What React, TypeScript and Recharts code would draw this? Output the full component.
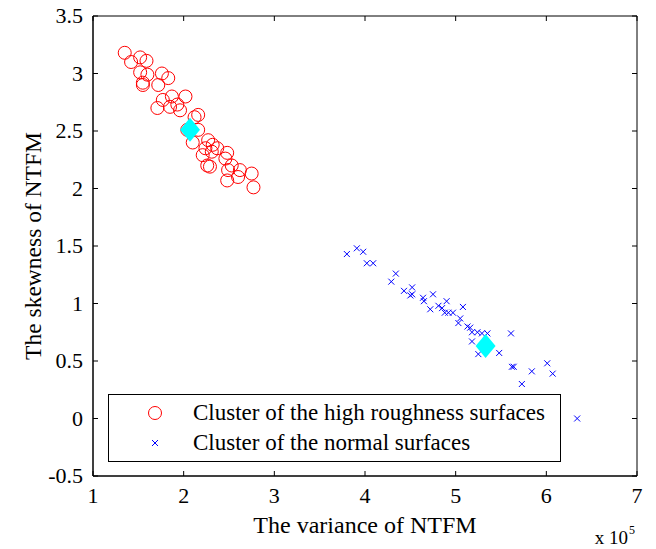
import React from 'react';
import { ScatterChart, Scatter, XAxis, YAxis, Legend, Label, ReferenceArea } from 'recharts';

// values (x in units of 10^5)
const roughX = [1.35, 1.42, 1.52, 1.59, 1.52, 1.6, 1.55, 1.76, 1.83, 1.72, 1.71, 1.77, 1.87, 2.02, 1.93, 1.96, 1.85, 2.16, 2.04, 2.16, 2.1, 2.27, 2.32, 2.24, 2.21, 2.31, 2.37, 2.48, 2.46, 2.26, 2.29, 2.53, 2.49, 2.62, 2.75, 2.48, 2.6, 2.77, 1.55, 2.12];
const roughY = [3.18, 3.1, 3.14, 3.11, 3.01, 2.99, 2.9, 3.0, 2.96, 2.9, 2.7, 2.77, 2.8, 2.8, 2.73, 2.68, 2.71, 2.64, 2.51, 2.51, 2.4, 2.42, 2.38, 2.35, 2.29, 2.32, 2.35, 2.31, 2.26, 2.2, 2.19, 2.2, 2.16, 2.16, 2.13, 2.07, 2.1, 2.01, 2.92, 2.62];

const normalX = [3.8, 3.91, 3.98, 4.02, 4.09, 4.29, 4.34, 4.43, 4.52, 4.52, 4.5, 4.64, 4.65, 4.75, 4.72, 4.81, 4.85, 4.9, 4.88, 4.92, 4.97, 5.08, 5.05, 5.03, 5.13, 5.16, 5.18, 5.24, 5.29, 5.35, 5.18, 5.25, 5.48, 5.61, 5.62, 5.64, 5.84, 6.01, 6.07, 5.73, 6.34];
const normalY = [1.43, 1.48, 1.45, 1.35, 1.35, 1.19, 1.26, 1.11, 1.14, 1.08, 1.07, 1.05, 1.02, 1.08, 0.95, 0.98, 0.96, 1.02, 0.92, 0.92, 0.92, 0.97, 0.87, 0.83, 0.8, 0.79, 0.75, 0.75, 0.74, 0.74, 0.67, 0.56, 0.57, 0.74, 0.45, 0.45, 0.41, 0.48, 0.39, 0.3, 0.0];

const centroidX = [2.07, 5.33];
const centroidY = [2.51, 0.63];

const xTicks = [1, 2, 3, 4, 5, 6, 7];
const yTicks = [-0.5, 0, 0.5, 1, 1.5, 2, 2.5, 3, 3.5];

const seriesNames = ['Cluster of the high roughness surfaces', 'Cluster of the normal surfaces'];

const zip = (xs: number[], ys: number[]) => xs.map((x, i) => ({ x, y: ys[i] }));
const roughData = zip(roughX, roughY);
const normalData = zip(normalX, normalY);
const centroidData = zip(centroidX, centroidY);

const FONT = '"Liberation Serif", "Times New Roman", serif';
const PLOT_W = 544;
const PLOT_H = 460;
const TICK = 5;

const CircleMark = ({ cx, cy }: any) => (
  <circle cx={cx} cy={cy} r={6.5} fill="none" stroke="#ff0000" strokeWidth={1} />
);

const CrossMark = ({ cx, cy }: any) => (
  <g stroke="#0000ff" strokeWidth={1}>
    <line x1={cx - 3} y1={cy - 3} x2={cx + 3} y2={cy + 3} />
    <line x1={cx - 3} y1={cy + 3} x2={cx + 3} y2={cy - 3} />
  </g>
);

const DiamondMark = ({ cx, cy }: any) => (
  <polygon points={`${cx},${cy - 12} ${cx + 10},${cy} ${cx},${cy + 12} ${cx - 10},${cy}`} fill="#00ffff" />
);

const XTick = ({ x, y, payload }: any) => (
  <g>
    <line x1={x} x2={x} y1={y} y2={y - TICK} stroke="#000" />
    <line x1={x} x2={x} y1={y - PLOT_H} y2={y - PLOT_H + TICK} stroke="#000" />
    <text x={x} y={y + 27} textAnchor="middle" fontSize={22} fontFamily={FONT} fill="#000">
      {payload.value}
    </text>
  </g>
);

const YTick = ({ x, y, payload }: any) => (
  <g>
    <line x1={x} x2={x + TICK} y1={y} y2={y} stroke="#000" />
    <line x1={x + PLOT_W - TICK} x2={x + PLOT_W} y1={y} y2={y} stroke="#000" />
    <text x={x - 10} y={y + 7} textAnchor="end" fontSize={22} fontFamily={FONT} fill="#000">
      {payload.value}
    </text>
  </g>
);

const XTitle = ({ viewBox }: any) => {
  const { x, y, width } = viewBox;
  return (
    <g fontFamily={FONT} fill="#000">
      <text x={x + width / 2} y={y + 57} textAnchor="middle" fontSize={24}>The variance of NTFM</text>
      <text x={x + width - 9} y={y + 68} textAnchor="end" fontSize={19}>x 10</text>
      <text x={x + width - 8} y={y + 58} textAnchor="start" fontSize={12}>5</text>
    </g>
  );
};

const YTitle = ({ viewBox }: any) => {
  const { y, height } = viewBox;
  const cy = y + height / 2;
  return (
    <text x={41} y={cy} transform={`rotate(-90, 41, ${cy})`} textAnchor="middle" fontSize={23.5} fontFamily={FONT} fill="#000">
      The skewness of NTFM
    </text>
  );
};

const LegendBox = ({ payload }: any) => {
  const items = (payload || []).filter((p: any) => seriesNames.includes(p.value));
  return (
    <svg width={453} height={68} style={{ display: 'block' }}>
      <rect x={0.5} y={0.5} width={452} height={67} fill="#fff" stroke="#000" strokeWidth={1} />
      {items.map((p: any, i: number) => {
        const cy = 19 + i * 30;
        return (
          <g key={p.value}>
            {i === 0 ? <CircleMark cx={47} cy={cy} /> : <CrossMark cx={47} cy={cy} />}
            <text x={85} y={cy + 7} fontSize={23} fontFamily={FONT} fill="#000">{p.value}</text>
          </g>
        );
      })}
    </svg>
  );
};

export default function App() {
  return (
    <div style={{ position: 'absolute', left: 0, top: 0, background: '#fff' }}>
      <ScatterChart width={656} height={549} margin={{ top: 16, right: 19, bottom: 0, left: 0 }}>
        <XAxis
          type="number"
          dataKey="x"
          domain={[1, 7]}
          ticks={xTicks}
          allowDataOverflow
          height={73}
          tickSize={0}
          tickMargin={0}
          tick={<XTick />}
          axisLine={{ stroke: '#000' }}
          tickLine={false}
          label={<Label content={<XTitle />} />}
        />
        <YAxis
          type="number"
          dataKey="y"
          domain={[-0.5, 3.5]}
          ticks={yTicks}
          allowDataOverflow
          width={93}
          tickSize={0}
          tickMargin={0}
          tick={<YTick />}
          axisLine={{ stroke: '#000' }}
          tickLine={false}
          label={<Label content={<YTitle />} />}
        />
        <ReferenceArea x1={1} x2={7} y1={-0.5} y2={3.5} fill="none" stroke="#000" strokeWidth={1} fillOpacity={0} />
        <Legend
          layout="horizontal"
          verticalAlign="middle"
          align="center"
          content={<LegendBox />}
          wrapperStyle={{ left: 108, top: 394, width: 453, height: 68 }}
        />
        <Scatter name={seriesNames[0]} data={roughData} fill="#ff0000" shape={<CircleMark />} isAnimationActive={false} />
        <Scatter name={seriesNames[1]} data={normalData} fill="#0000ff" shape={<CrossMark />} isAnimationActive={false} />
        <Scatter name="centroids" data={centroidData} fill="#00ffff" shape={<DiamondMark />} legendType="none" isAnimationActive={false} />
      </ScatterChart>
    </div>
  );
}
